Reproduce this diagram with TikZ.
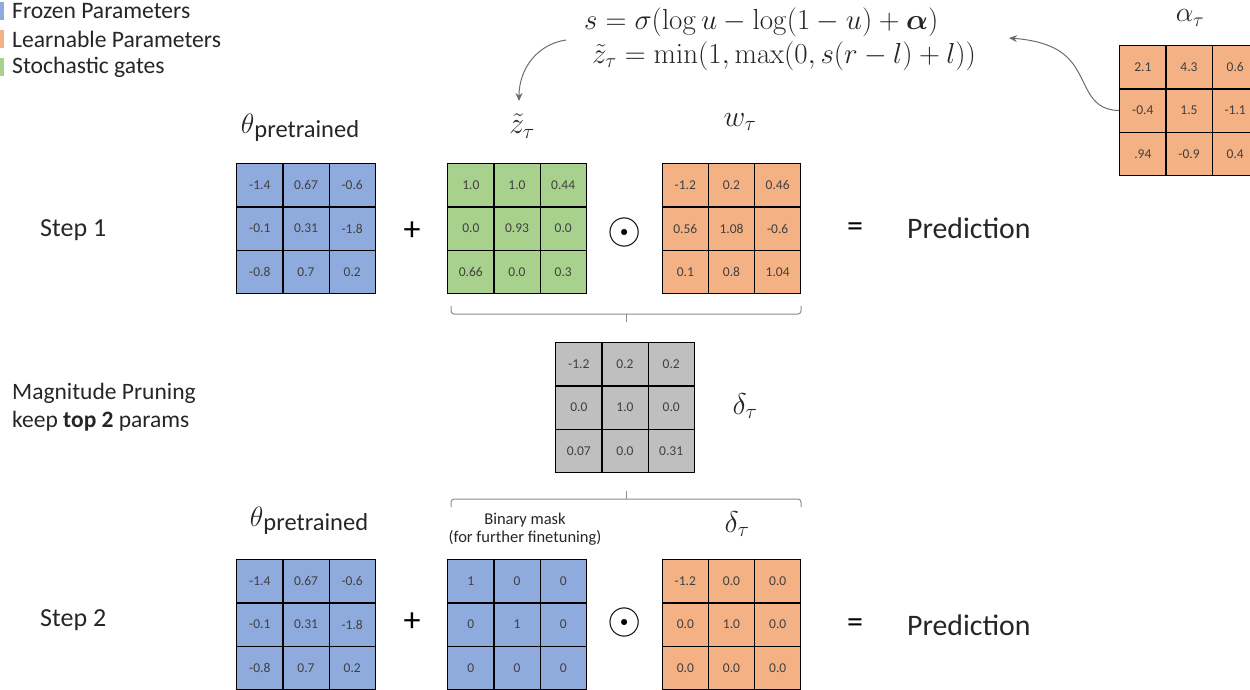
\documentclass[tikz,border=0pt]{standalone}
\usepackage{fix-cm}
\usepackage{amsmath}
\usepackage[no-math]{fontspec}
\setmainfont{Carlito}
\usetikzlibrary{matrix,arrows.meta}
\newcommand\myfs[1]{\fontsize{#1}{#1}\selectfont}
\definecolor{fblue}{HTML}{8FAADC}
\definecolor{forange}{HTML}{F4B183}
\definecolor{fgreen}{HTML}{A9D18E}
\definecolor{fgrey}{HTML}{BFBFBF}
\definecolor{cellgray}{HTML}{404040}
\definecolor{txt}{HTML}{262626}
\definecolor{brgray}{HTML}{8C8C8C}
\begin{document}
\begin{tikzpicture}[x=1pt,y=-1pt,
  cell/.style={draw=black,line width=1.2pt,minimum width=46.2pt,minimum height=43.2pt,inner sep=0pt,anchor=center,text=cellgray,font=\myfs{13.5}},
  mat/.style={matrix of nodes,nodes={cell,fill=#1},column sep=-1.2pt,row sep=-1.2pt,inner sep=0pt,outer sep=0pt},
  lbl/.style={text=txt,inner sep=0pt},
  sym/.style={text=black,inner sep=0pt},
  brace/.style={draw=brgray,line width=1pt,rounded corners=3pt},
  conn/.style={draw=gray!85!black,line width=1pt,-{Stealth[length=8pt,width=7pt]}},
  legbar/.style={minimum width=4pt,minimum height=18pt,inner sep=0pt,anchor=west}]
\useasboundingbox (0,0) rectangle (1250,689);

% legend
\node[legbar,fill=fblue] (b1) at (0,11) {};
\node[legbar,fill=forange] (b2) at (0,39) {};
\node[legbar,fill=fgreen] (b3) at (0,67) {};
\node[lbl,anchor=west,font=\myfs{23.6}] (t1) at (12,11) {Frozen Parameters};
\node[lbl,anchor=west,font=\myfs{23.6}] (t2) at (12,39) {Learnable Parameters};
\node[lbl,anchor=west,font=\myfs{23.6}] (t3) at (12,67) {Stochastic gates};

% formula
\node[lbl,anchor=west,font=\myfs{29}] (f1) at (584,22) {$s=\sigma(\log u-\log(1-u)+\boldsymbol{\alpha})$};
\node[lbl,anchor=west,font=\myfs{29}] (f2) at (592,56) {$\tilde{z}_{\tau}=\min(1,\max(0,s(r-l)+l))$};

% alpha
\node[lbl,font=\myfs{28}] (la) at (1190,18) {$\alpha_{\tau}$};
\matrix (ma) [mat=forange] at (1189,110.5) {2.1 & 4.3 & 0.6\\ -0.4 & 1.5 & -1.1\\ .94 & -0.9 & 0.4\\};

% step 1
\node[lbl,anchor=west,font=\myfs{26}] (s1) at (40,230) {Step 1};
\node[lbl,font=\myfs{28}] (lth1) at (300,128) {$\theta$\raisebox{-4pt}{\myfs{24.5}pretrained}};
\node[lbl,font=\myfs{30}] (lz) at (522,126) {$\tilde{z}_{\tau}$};
\node[lbl,font=\myfs{30}] (lw) at (740,122) {$w_{\tau}$};
\matrix (th1) [mat=fblue] at (306,228.5) {-1.4 & 0.67 & -0.6\\ -0.1 & 0.31 & -1.8\\ -0.8 & 0.7 & 0.2\\};
\matrix (mz) [mat=fgreen] at (517,228.5) {1.0 & 1.0 & 0.44\\ 0.0 & 0.93 & 0.0\\ 0.66 & 0.0 & 0.3\\};
\matrix (mw) [mat=forange] at (731.5,228.5) {-1.2 & 0.2 & 0.46\\ 0.56 & 1.08 & -0.6\\ 0.1 & 0.8 & 1.04\\};
\node[sym,font=\myfs{34}] (p1) at (412,231) {+};
\node[sym,font=\myfs{44}] (o1) at (625,232) {$\odot$};
\node[sym,font=\myfs{32}] (e1) at (855,230) {=};
\node[lbl,anchor=west,font=\myfs{29.8}] (pr1) at (907,228) {Prediction};

% brace 1
\draw[brace] (451,306) -- (451,314) -- (801,314) -- (801,306);
\draw[brgray,line width=1pt] (626,314) -- (626,322);

% middle
\node[lbl,anchor=west,align=left,font=\myfs{23.5}] (mp) at (12,407) {Magnitude Pruning\\[5pt]keep \textbf{top 2} params};
\matrix (mg) [mat=fgrey] at (625,407.5) {-1.2 & 0.2 & 0.2\\ 0.0 & 1.0 & 0.0\\ 0.07 & 0.0 & 0.31\\};
\node[lbl,font=\myfs{30}] (ld1) at (745,406) {$\delta_{\tau}$};

% brace 2
\draw[brace] (451,507) -- (451,499) -- (801,499) -- (801,507);
\draw[brgray,line width=1pt] (626,499) -- (626,491);

% step 2
\node[lbl,anchor=west,font=\myfs{26}] (s2) at (40,620) {Step 2};
\node[lbl,font=\myfs{28}] (lth2) at (309,521) {$\theta$\raisebox{-4pt}{\myfs{24.5}pretrained}};
\node[lbl,align=center,font=\myfs{16.5}] (lb) at (525,529) {Binary mask\\[2pt](for further finetuning)};
\node[lbl,font=\myfs{30}] (ld2) at (737,524) {$\delta_{\tau}$};
\matrix (th2) [mat=fblue] at (306,624.5) {-1.4 & 0.67 & -0.6\\ -0.1 & 0.31 & -1.8\\ -0.8 & 0.7 & 0.2\\};
\matrix (mb) [mat=fblue] at (517,624.5) {1 & 0 & 0\\ 0 & 1 & 0\\ 0 & 0 & 0\\};
\matrix (md) [mat=forange] at (731.5,624.5) {-1.2 & 0.0 & 0.0\\ 0.0 & 1.0 & 0.0\\ 0.0 & 0.0 & 0.0\\};
\node[sym,font=\myfs{34}] (p2) at (412,622) {+};
\node[sym,font=\myfs{44}] (o2) at (625,622) {$\odot$};
\node[sym,font=\myfs{32}] (e2) at (855,626) {=};
\node[lbl,anchor=west,font=\myfs{29.8}] (pr2) at (907,625) {Prediction};

% arrows
\coordinate (a1s) at (566,40);
\coordinate (a1e) at (519,101);
\draw[conn] (a1s) .. controls (538,44) and (519,68) .. (a1e);
\coordinate (a2e) at (1009,38);
\draw[conn] (ma.west) .. controls (1085,110) and (1088,78) .. (1068,58) .. controls (1055,45) and (1035,40) .. (a2e);
\end{tikzpicture}
\end{document}
